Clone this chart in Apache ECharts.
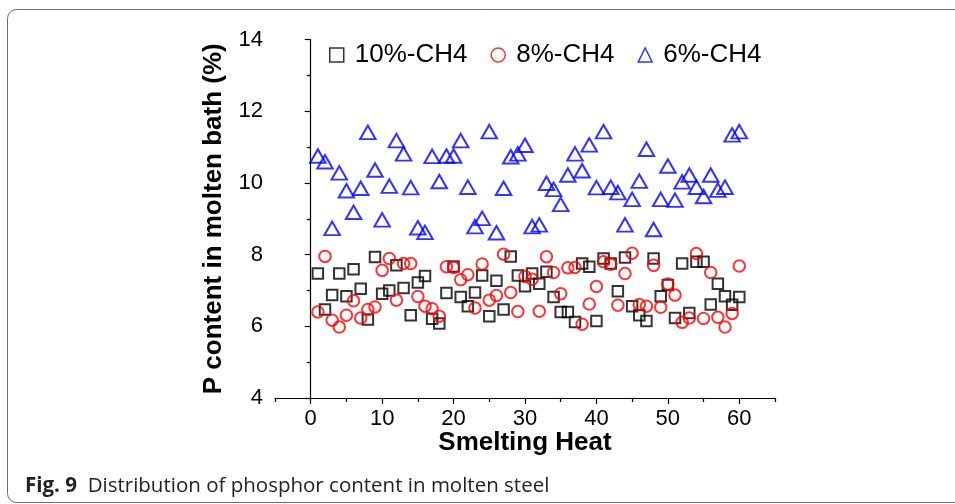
<!DOCTYPE html>
<html>
<head>
<meta charset="utf-8">
<script src="https://cdn.jsdelivr.net/npm/echarts@6/dist/echarts.min.js"></script>
<style>
  html, body { margin: 0; padding: 0; background: #fff; }
  #chart { width: 955px; height: 504px; }
</style>
</head>
<body>
<div id="chart"></div>
<script>
// smelting heat number (x)
const heats = [1, 2, 3, 4, 5, 6, 7, 8, 9, 10, 11, 12, 13, 14, 15, 16, 17, 18, 19, 20,
  21, 22, 23, 24, 25, 26, 27, 28, 29, 30, 31, 32, 33, 34, 35, 36, 37, 38, 39, 40,
  41, 42, 43, 44, 45, 46, 47, 48, 49, 50, 51, 52, 53, 54, 55, 56, 57, 58, 59, 60];

// P content (%)
const ch4_10 = [7.47, 6.47, 6.87, 7.47, 6.84, 7.59, 7.05, 6.19, 7.93, 6.91,
  7.00, 7.70, 7.07, 6.31, 7.22, 7.40, 6.21, 6.08, 6.93, 7.67,
  6.82, 6.56, 6.94, 7.42, 6.28, 7.27, 6.47, 7.95, 7.42, 7.12,
  7.47, 7.19, 7.52, 6.82, 6.40, 6.40, 6.12, 7.75, 7.66, 6.15,
  7.89, 7.75, 6.98, 7.92, 6.56, 6.31, 6.15, 7.89, 6.84, 7.15,
  6.23, 7.75, 6.37, 7.80, 7.80, 6.61, 7.19, 6.84, 6.60, 6.82];

const ch4_8 = [6.40, 7.95, 6.17, 5.98, 6.31, 6.71, 6.23, 6.47, 6.54, 7.56,
  7.89, 6.73, 7.75, 7.75, 6.83, 6.56, 6.49, 6.28, 7.66, 7.64,
  7.30, 7.44, 6.51, 7.74, 6.73, 6.86, 8.01, 6.94, 6.41, 7.39,
  7.31, 6.42, 7.94, 7.50, 6.91, 7.63, 7.64, 6.06, 6.62, 7.11,
  7.80, 7.73, 6.59, 7.47, 8.04, 6.61, 6.56, 7.70, 6.53, 7.18,
  6.87, 6.11, 6.23, 8.03, 6.22, 7.50, 6.25, 5.98, 6.36, 7.68];

const ch4_6 = [10.75, 10.59, 8.73, 10.28, 9.78, 9.18, 9.85, 11.41, 10.36, 8.97,
  9.91, 11.18, 10.81, 9.87, 8.75, 8.62, 10.74, 10.04, 10.75, 10.75,
  11.18, 9.88, 8.78, 9.01, 11.43, 8.61, 9.85, 10.73, 10.81, 11.05,
  8.78, 8.83, 9.99, 9.82, 9.40, 10.22, 10.81, 10.34, 11.06, 9.87,
  11.43, 9.88, 9.73, 8.83, 9.54, 10.05, 10.94, 8.70, 9.54, 10.47,
  9.52, 10.03, 10.22, 9.88, 9.62, 10.22, 9.80, 9.88, 11.34, 11.43];

const seriesNames = ['10%-CH4', '8%-CH4', '6%-CH4'];
const xMajorTicks = [0, 10, 20, 30, 40, 50, 60];
const xMinorTicks = [-5, 5, 15, 25, 35, 45, 55, 65];

const pairs = ys => heats.map((h, i) => [h, ys[i]]);

const tickFont = "'Liberation Sans', Arial, sans-serif";
const titleFont = "'Liberation Sans', Arial, sans-serif";
const captionFont = "'Open Sans', 'Noto Sans', sans-serif";

const chart = echarts.init(document.getElementById('chart'));

const hollow = (c, w) => ({ color: 'rgba(0,0,0,0)', borderColor: c, borderWidth: w });

const option = {
  animation: false,
  backgroundColor: '#fff',
  grid: { left: 275, right: 180, top: 39.5, bottom: 106 },
  legend: {
    left: 324,
    top: 37,
    itemWidth: 14,
    itemHeight: 14,
    itemGap: 23,
    textStyle: { fontSize: 26, fontFamily: titleFont, color: '#000', padding: [0, 0, 0, 6] },
    data: [
      { name: seriesNames[0], icon: 'rect', itemStyle: hollow('#000', 1.5) },
      { name: seriesNames[1], icon: 'circle', itemStyle: hollow('#ff0000', 1.5) },
      { name: seriesNames[2], icon: 'triangle', itemStyle: hollow('#0000ff', 1.5) }
    ]
  },
  xAxis: [{
    type: 'value',
    min: -5, max: 65,
    name: 'Smelting Heat',
    nameLocation: 'middle',
    nameGap: 32,
    nameMoveOverlap: false,
    nameTextStyle: { fontSize: 26, fontWeight: 'bold', fontFamily: titleFont, color: '#000' },
    axisLine: { show: true, onZero: false, lineStyle: { color: '#000', width: 1.2 } },
    axisTick: { show: true, length: 6, customValues: xMajorTicks, lineStyle: { color: '#000', width: 1.2 } },
    axisLabel: { customValues: xMajorTicks, margin: 10, fontSize: 22, fontFamily: tickFont, color: '#000' },
    splitLine: { show: false }
  }, {
    // minor ticks only
    type: 'value',
    position: 'bottom',
    min: -5, max: 65,
    axisLine: { show: false },
    axisTick: { show: true, length: 4, customValues: xMinorTicks, lineStyle: { color: '#000', width: 1.2 } },
    axisLabel: { show: false },
    splitLine: { show: false }
  }],
  yAxis: {
    type: 'value',
    min: 4, max: 14, interval: 2,
    name: 'P content in molten bath (%)',
    nameLocation: 'middle',
    nameGap: 48,
    nameMoveOverlap: false,
    nameTextStyle: { fontSize: 26, fontWeight: 'bold', fontFamily: titleFont, color: '#000' },
    axisLine: { show: true, lineStyle: { color: '#000', width: 1.2 } },
    axisTick: { show: true, length: 6, lineStyle: { color: '#000', width: 1.2 } },
    minorTick: { show: true, splitNumber: 2, length: 4, lineStyle: { color: '#000', width: 1.2 } },
    axisLabel: { margin: 12, fontSize: 22, fontFamily: tickFont, color: '#000' },
    splitLine: { show: false }
  },
  series: [
    {
      name: seriesNames[0], type: 'scatter', symbol: 'rect', symbolSize: 10.5,
      itemStyle: hollow('#000', 2), data: pairs(ch4_10), silent: true
    },
    {
      name: seriesNames[1], type: 'scatter', symbol: 'circle', symbolSize: 11.5,
      itemStyle: hollow('#ff0000', 2), data: pairs(ch4_8), silent: true
    },
    {
      name: seriesNames[2], type: 'scatter', symbol: 'triangle', symbolSize: [15.5, 13.5],
      itemStyle: hollow('#0000ff', 2), data: pairs(ch4_6), silent: true
    }
  ],
  graphic: [
    {
      type: 'rect', silent: true,
      shape: { x: 7.5, y: 9.5, width: 1000, height: 493, r: 9 },
      style: { fill: 'none', stroke: '#6b6b6b', lineWidth: 1 }
    },
    {
      type: 'text', silent: true, x: 25, y: 486,
      style: {
        text: '{b|Fig. 9}  Distribution of phosphor content in molten steel',
        fontSize: 20.5, fontFamily: captionFont, fill: '#222',
        verticalAlign: 'middle',
        rich: { b: { fontSize: 20.5, fontWeight: 'bold', fontFamily: captionFont, fill: '#222' } }
      }
    }
  ]
};

chart.setOption(option);
</script>
</body>
</html>
